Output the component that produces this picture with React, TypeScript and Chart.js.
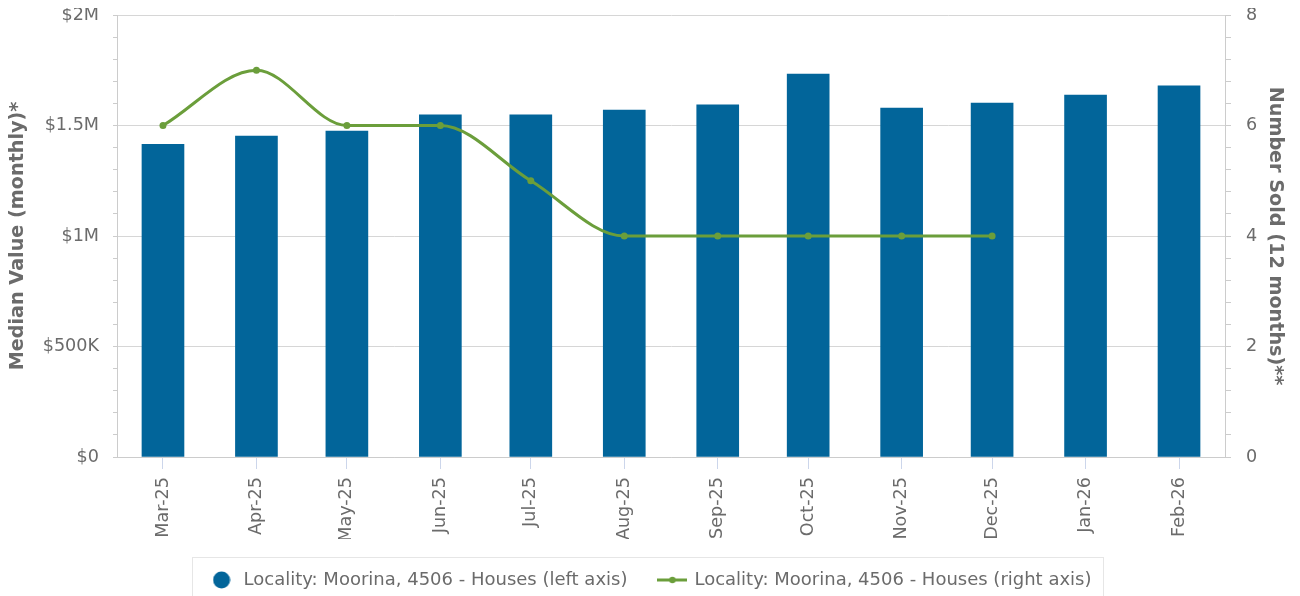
import { useEffect, useRef } from 'react';
import { Chart, registerables } from 'chart.js';

Chart.register(...registerables);

const categories = ['Mar-25', 'Apr-25', 'May-25', 'Jun-25', 'Jul-25', 'Aug-25', 'Sep-25', 'Oct-25', 'Nov-25', 'Dec-25', 'Jan-26', 'Feb-26'];
const monthStarts = ['2025-03-01', '2025-04-01', '2025-05-01', '2025-06-01', '2025-07-01', '2025-08-01', '2025-09-01', '2025-10-01', '2025-11-01', '2025-12-01', '2026-01-01', '2026-02-01'];
const medianValues = [1415000, 1452000, 1475000, 1548000, 1548000, 1570000, 1593000, 1733000, 1579000, 1602000, 1638000, 1679000];
const numberSold: (number | null)[] = [6, 7, 6, 6, 5, 4, 4, 4, 4, 4, null, null];
const leftTickLabels = ['$0', '$500K', '$1M', '$1.5M', '$2M'];
const rightTickLabels = ['0', '2', '4', '6', '8'];
const seriesLabels = ['Locality: Moorina, 4506 - Houses (left axis)', 'Locality: Moorina, 4506 - Houses (right axis)'];
const axisTitles = ['Median Value (monthly)*', 'Number Sold (12 months)**'];

const BAR_COLOR = '#02659a';
const LINE_COLOR = '#6b9e3b';
const TEXT_COLOR = '#6b6b6b';
const FONT = "'DejaVu Sans', sans-serif";

export default function App() {
  const ref = useRef<HTMLCanvasElement>(null);

  useEffect(() => {
    document.documentElement.style.overflow = 'hidden';
    const t0 = Date.parse(monthStarts[0]);
    const days = monthStarts.map((d) => (Date.parse(d) - t0) / 86400000);
    const lastDay = days[days.length - 1];

    const circle = document.createElement('canvas');
    circle.width = 18;
    circle.height = 18;
    const c1 = circle.getContext('2d')!;
    c1.fillStyle = BAR_COLOR;
    c1.beginPath();
    c1.arc(9, 9, 8.5, 0, Math.PI * 2);
    c1.fill();

    const lineIcon = document.createElement('canvas');
    lineIcon.width = 30;
    lineIcon.height = 8;
    const c2 = lineIcon.getContext('2d')!;
    c2.strokeStyle = LINE_COLOR;
    c2.lineWidth = 3;
    c2.beginPath();
    c2.moveTo(0, 4);
    c2.lineTo(30, 4);
    c2.stroke();
    c2.fillStyle = LINE_COLOR;
    c2.beginPath();
    c2.arc(15, 4, 3.2, 0, Math.PI * 2);
    c2.fill();
    const icons = [circle, lineIcon];

    const legendBorder = {
      id: 'legendBorder',
      afterDraw(chart: any) {
        const lg = chart.legend;
        if (!lg || !lg.legendHitBoxes || lg.legendHitBoxes.length < 2) return;
        const hb = lg.legendHitBoxes;
        const first = hb[0];
        const last = hb[hb.length - 1];
        const cy = first.top + 9;
        const left = first.left - 17;
        const right = last.left + last.width + 11;
        const ctx = chart.ctx;
        ctx.save();
        ctx.strokeStyle = '#e6e6e6';
        ctx.lineWidth = 1;
        ctx.strokeRect(Math.round(left) + 0.5, Math.round(cy - 23) + 0.5, Math.round(right - left), 60);
        ctx.restore();
      },
    };

    const isMultiple = (v: number, step: number) => Math.abs(v / step - Math.round(v / step)) < 1e-6;

    const chart = new Chart(ref.current!, {
      type: 'bar',
      data: {
        datasets: [
          {
            type: 'bar',
            label: seriesLabels[0],
            data: days.map((x, i) => ({ x, y: medianValues[i] })),
            backgroundColor: BAR_COLOR,
            barThickness: 42,
            xAxisID: 'x',
            yAxisID: 'y',
            order: 2,
          } as any,
          {
            type: 'line',
            label: seriesLabels[1],
            data: days.map((x, i) => ({ x, y: numberSold[i] })),
            borderColor: LINE_COLOR,
            backgroundColor: LINE_COLOR,
            borderWidth: 3,
            pointRadius: 3.5,
            pointHoverRadius: 3.5,
            pointBorderWidth: 0,
            cubicInterpolationMode: 'monotone',
            fill: false,
            xAxisID: 'x',
            yAxisID: 'y1',
            order: 1,
          } as any,
        ],
      },
      plugins: [legendBorder],
      options: {
        responsive: true,
        maintainAspectRatio: false,
        animation: false,
        events: [],
        layout: { padding: { top: 7, left: 0, right: 0, bottom: 0 } },
        font: { family: FONT },
        plugins: {
          tooltip: { enabled: false },
          legend: {
            display: true,
            position: 'bottom',
            labels: {
              usePointStyle: true,
              pointStyleWidth: 26,
              padding: 32,
              color: TEXT_COLOR,
              font: { family: FONT, size: 18 },
              sort: (a: any, b: any) => a.datasetIndex - b.datasetIndex,
              generateLabels: (ch: any) => {
                const items = (Chart as any).defaults.plugins.legend.labels.generateLabels(ch);
                items.forEach((it: any) => {
                  it.pointStyle = icons[it.datasetIndex];
                  it.fontColor = TEXT_COLOR;
                });
                return items;
              },
            },
          },
        },
        scales: {
          x: {
            type: 'linear',
            position: 'bottom',
            min: -15.25,
            max: lastDay + 15.25,
            offset: false,
            afterBuildTicks: (s: any) => {
              s.ticks = days.map((v) => ({ value: v }));
            },
            afterFit: (s: any) => {
              s.height = 82;
              s.paddingLeft = 0;
              s.paddingRight = 0;
            },
            ticks: {
              autoSkip: false,
              minRotation: 90,
              maxRotation: 90,
              padding: 8,
              color: TEXT_COLOR,
              font: { family: FONT, size: 17.6 },
              callback: (_v: any, i: number) => categories[i],
            },
            grid: {
              offset: false,
              drawOnChartArea: false,
              drawTicks: true,
              tickLength: 12,
              tickColor: '#ccd6eb',
            },
            border: { display: true, color: '#cccccc' },
          },
          y: {
            type: 'linear',
            position: 'left',
            min: 0,
            max: 2000000,
            afterFit: (s: any) => {
              s.width = 109;
              s.paddingTop = 0;
              s.paddingBottom = 0;
            },
            ticks: {
              stepSize: 100000,
              autoSkip: false,
              padding: 14,
              color: TEXT_COLOR,
              font: { family: FONT, size: 17.6 },
              callback: (v: any) => (isMultiple(Number(v), 500000) ? leftTickLabels[Math.round(Number(v) / 500000)] : ''),
            },
            grid: {
              drawOnChartArea: true,
              drawTicks: true,
              tickLength: 4,
              color: (ctx: any) => (ctx.tick && isMultiple(ctx.tick.value, 500000) ? '#d6d6d6' : 'rgba(0,0,0,0)'),
              tickColor: '#cccccc',
            },
            border: { display: true, color: '#cccccc' },
            title: {
              display: true,
              text: axisTitles[0],
              color: TEXT_COLOR,
              font: { family: FONT, size: 19.2, weight: 'bold', lineHeight: 1 },
              padding: { top: 0, bottom: 0 },
            },
          },
          y1: {
            type: 'linear',
            position: 'right',
            min: 0,
            max: 8,
            afterFit: (s: any) => {
              s.width = 67;
              s.paddingTop = 0;
              s.paddingBottom = 0;
            },
            ticks: {
              stepSize: 0.4,
              autoSkip: false,
              padding: 15,
              color: TEXT_COLOR,
              font: { family: FONT, size: 17.6 },
              callback: (v: any) => (isMultiple(Number(v), 2) ? rightTickLabels[Math.round(Number(v) / 2)] : ''),
            },
            grid: {
              drawOnChartArea: false,
              drawTicks: true,
              tickLength: 6,
              tickColor: '#cccccc',
            },
            border: { display: true, color: '#cccccc' },
            title: {
              display: true,
              text: axisTitles[1],
              color: TEXT_COLOR,
              font: { family: FONT, size: 19.2, weight: 'bold', lineHeight: 1 },
              padding: { top: 7, bottom: 0 },
            },
          },
        },
      } as any,
    });

    return () => chart.destroy();
  }, []);

  return (
    <div style={{ width: 1284, height: 588, overflow: 'hidden' }}>
      <div style={{ position: 'relative', width: 1284, height: 591 }}>
        <canvas ref={ref} />
      </div>
    </div>
  );
}
